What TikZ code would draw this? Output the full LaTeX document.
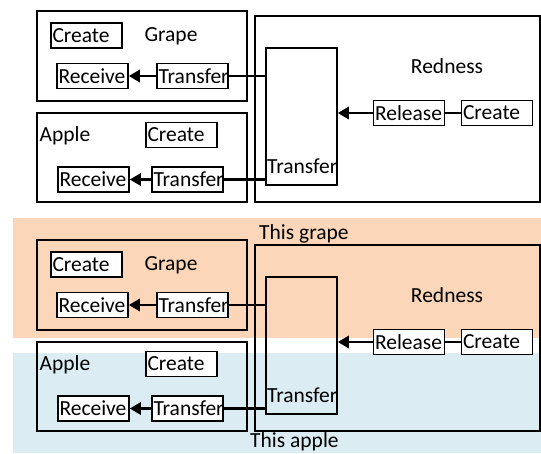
\documentclass[tikz,border=0pt]{standalone}
\usepackage{fontspec}
\setmainfont{Carlito}
\usetikzlibrary{arrows.meta,calc}
\definecolor{grapebg}{RGB}{251,214,184}
\definecolor{applebg}{RGB}{219,237,243}
\begin{document}
\begin{tikzpicture}[x=1pt,y=-1pt,
  lbl/.style={font=\fontsize{21.5}{21.5}\selectfont, inner sep=0pt},
  sbox/.style={draw, line width=1.5pt, fill=white, text width=68pt, align=left, minimum height=25pt, inner xsep=1.5pt, inner ysep=0pt, font=\fontsize{21.5}{21.5}\selectfont},
  frame/.style={draw, line width=1.5pt},
  link/.style={line width=2.8pt},
  arr/.style={line width=2.8pt, -{Triangle[length=11pt,width=12pt]}}]
\useasboundingbox (0,0) rectangle (541,453);
\fill[white] (0,0) rectangle (541,453);
% background bands
\fill[grapebg] (13,218) rectangle (541,338);
\fill[applebg] (13,353) rectangle (541,453);
\foreach \dy/\p in {0/a,229/b}{
  \begin{scope}[yshift=-\dy pt]
  \draw[frame] (37,11) rectangle (247,101);
  \draw[frame] (37,113) rectangle (247,202);
  \draw[frame] (255,16) rectangle (540,202);
  \node[frame, minimum width=71pt, minimum height=137pt, inner sep=0pt] (bigT\p) at (301.5,116.5) {};
  \node[lbl, anchor=west] (bigTl\p) at (267,166) {Transfer};
  \node[sbox] (createG\p) at (86.5,35.5) {Create};
  \node[lbl] (grapeL\p) at (171,36) {Grape};
  \node[sbox] (recvG\p) at (92.5,76) {Receive};
  \node[sbox] (trG\p) at (192.5,76) {Transfer};
  \node[lbl] (appleL\p) at (65,136) {Apple};
  \node[sbox] (createA\p) at (181.5,135) {Create};
  \node[sbox] (recvA\p) at (93.5,179.5) {Receive};
  \node[sbox] (trA\p) at (187.5,179.5) {Transfer};
  \node[lbl] (rednessL\p) at (447,66) {Redness};
  \node[sbox] (release\p) at (409,113) {Release};
  \node[sbox] (createR\p) at (497,113) {Create};
  \draw[arr] (trG\p) -- (recvG\p);
  \draw[arr] (trA\p) -- (recvA\p);
  \draw[link] (trG\p.east) -- (trG\p.east -| bigT\p.west);
  \draw[link] (trA\p.east) -- (trA\p.east -| bigT\p.west);
  \draw[arr] (release\p) -- (release\p -| bigT\p.east);
  \draw[link] (release\p) -- (createR\p);
  \end{scope}
}
\node[lbl, anchor=west] (thisgrape) at (259,234) {This grape};
\node[lbl, anchor=west] (thisapple) at (250,442) {This apple};
\end{tikzpicture}
\end{document}
